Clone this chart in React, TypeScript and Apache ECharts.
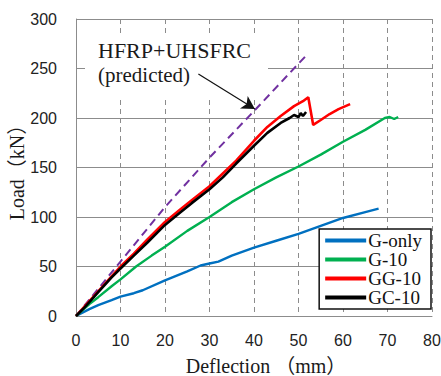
import React, { useEffect, useRef } from "react";
import * as echarts from "echarts";

const xTicks = { min: 0, max: 80, interval: 10 };
const yTicks = { min: 0, max: 300, interval: 50 };

const seriesNames = ["G-only", "G-10", "GG-10", "GC-10"];

const deflGonly = [0, 3, 5, 8, 10, 13, 15, 20, 25, 28, 30, 32, 35, 40, 45, 50, 55, 60, 65, 68];
const loadGonly = [0, 7, 11, 16, 19.5, 23, 26, 36, 45, 51, 53, 55, 61, 69, 76, 83, 91, 99, 105, 108.5];

const deflG10 = [0, 3, 5, 8, 10, 13.5, 17, 20, 25, 30, 35, 40, 45, 50, 55, 60, 65, 69.4, 70.5, 71.5, 72.4];
const loadG10 = [0, 12, 19, 30, 37, 50, 61, 70, 86, 100, 115, 128, 140, 151, 163, 176, 188, 200, 201, 199, 201];

const deflGG10 = [0, 2, 5, 8, 10, 13, 16, 20, 23, 26, 30, 33, 36, 40, 43, 46, 49, 51, 52.2, 53.3, 55, 57, 59, 61.6];
const loadGG10 = [0, 10, 25, 40, 50, 63, 77, 95, 106, 117, 131, 144, 157, 177, 191, 202, 212, 217, 221, 193, 198, 204, 209, 214];

const deflGC10 = [0, 2, 5, 8, 10, 13, 16, 20, 23, 26, 30, 33, 36, 40, 43, 46, 48, 49, 50, 50.5, 51, 51.7];
const loadGC10 = [0, 9, 24, 39, 48, 61, 74, 92, 103, 114, 128, 140, 154, 172, 185, 195, 200, 203, 201, 205, 202, 206];

const deflPred = [0, 10, 20, 30, 40, 51.7];
const loadPred = [0, 55, 110, 160, 207, 263];

const arrowFrom = [27.5, 244.5];
const arrowTo = [40.2, 209];

const zip = (xs: number[], ys: number[]) => xs.map((x, i) => [x, ys[i]]);

const serif = "'Liberation Serif', 'Times New Roman', 'Noto Sans CJK SC', serif";
const sans = "'Liberation Sans', Arial, sans-serif";

export default function App() {
  const ref = useRef<HTMLDivElement>(null);
  useEffect(() => {
    if (!ref.current) return;
    const chart = echarts.init(ref.current, undefined, { renderer: "svg" });
    const lineSeries = (name: string, xs: number[], ys: number[], color: string, width: number) => ({
      name,
      type: "line",
      data: zip(xs, ys),
      showSymbol: false,
      symbol: "none",
      smooth: false,
      lineStyle: { color, width },
      itemStyle: { color },
      z: 3,
    });
    chart.setOption({
      animation: false,
      backgroundColor: "#fff",
      grid: { left: 76, right: 9, top: 19, bottom: 60, outerBoundsMode: "none", containLabel: false },
      xAxis: {
        type: "value",
        min: xTicks.min,
        max: xTicks.max,
        interval: xTicks.interval,
        name: "Deflection （mm）",
        nameLocation: "middle",
        nameGap: 40,
        nameMoveOverlap: false,
        nameTextStyle: { fontFamily: serif, fontSize: 20, color: "#1a1a1a", padding: [0, 0, 0, 24] },
        axisLine: { show: true, lineStyle: { color: "#8c8c8c", width: 1 } },
        axisTick: { show: false },
        axisLabel: { margin: 16, fontFamily: sans, fontSize: 16, color: "#222" },
        splitLine: { show: true, lineStyle: { color: "#8c8c8c", width: 1, type: [5, 4] } },
      },
      yAxis: {
        type: "value",
        min: yTicks.min,
        max: yTicks.max,
        interval: yTicks.interval,
        name: "Load（kN）",
        nameLocation: "middle",
        nameGap: 49,
        nameMoveOverlap: false,
        nameTextStyle: { fontFamily: serif, fontSize: 20, color: "#1a1a1a" },
        axisLine: { show: true, lineStyle: { color: "#8c8c8c", width: 1 } },
        axisTick: { show: false },
        axisLabel: { margin: 19, fontFamily: sans, fontSize: 16, color: "#222" },
        splitLine: { show: true, lineStyle: { color: "#8c8c8c", width: 1, type: "solid" } },
      },
      legend: {
        data: seriesNames,
        orient: "vertical",
        right: 10,
        bottom: 67,
        align: "left",
        icon: "rect",
        itemWidth: 41,
        itemHeight: 4,
        itemGap: 0,
        padding: [2, 9, 2, 6],
        backgroundColor: "#fff",
        borderColor: "#111",
        borderWidth: 1.5,
        borderRadius: 0,
        textStyle: { fontFamily: serif, fontSize: 19, lineHeight: 19, color: "#111", padding: [0, 0, 0, -3] },
      },
      graphic: [
        {
          type: "rect",
          z: 1,
          shape: { x: 85, y: 35, width: 183, height: 62 },
          style: { fill: "#fff" },
        },
        {
          type: "text",
          z: 5,
          x: 98,
          y: 50,
          style: { text: "HFRP+UHSFRC", font: `22px ${serif}`, fill: "#1a1a1a", verticalAlign: "middle", align: "left" },
        },
        {
          type: "text",
          z: 5,
          x: 98,
          y: 75,
          style: { text: "(predicted)", font: `21px ${serif}`, fill: "#1a1a1a", verticalAlign: "middle", align: "left" },
        },
      ],
      series: [
        {
          name: "predicted",
          type: "line",
          data: zip(deflPred, loadPred),
          showSymbol: false,
          symbol: "none",
          lineStyle: { color: "#7030A0", width: 2, type: [8, 5] },
          itemStyle: { color: "#7030A0" },
          z: 2,
          markLine: {
            silent: true,
            symbol: ["none", "arrow"],
            symbolSize: [11, 13],
            label: { show: false },
            lineStyle: { color: "#111", width: 1.2, type: "solid" },
            data: [[{ coord: arrowFrom }, { coord: arrowTo }]],
          },
        },
        lineSeries("G-only", deflGonly, loadGonly, "#0070C0", 2.4),
        lineSeries("G-10", deflG10, loadG10, "#00B050", 2.4),
        lineSeries("GG-10", deflGG10, loadGG10, "#FF0000", 2.6),
        lineSeries("GC-10", deflGC10, loadGC10, "#000000", 2.6),
      ],
    });
    return () => chart.dispose();
  }, []);
  return <div ref={ref} style={{ width: 441, height: 376, position: "absolute", left: 0, top: 0 }} />;
}
